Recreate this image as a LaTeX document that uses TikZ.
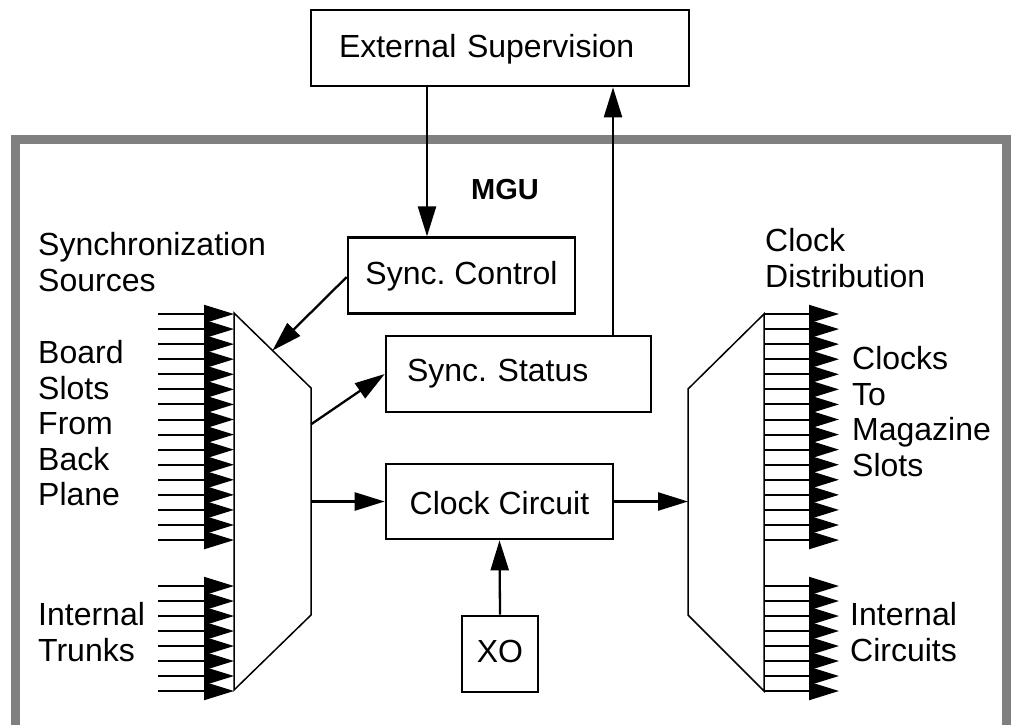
\documentclass[tikz,border=0pt]{standalone}
\usepackage{fontspec}
\setmainfont{Liberation Sans}
\usetikzlibrary{arrows.meta,calc}
\frenchspacing
\begin{document}
\begin{tikzpicture}[x=1pt,y=-1pt,
  every node/.style={font=\fontsize{32}{35.5}\selectfont},
  box/.style={draw, line width=2.6pt, inner sep=0pt},
  arr/.style={line width=2.3pt, -{Triangle[length=30pt,width=18pt]}},
  marr/.style={line width=2pt, -{Triangle[length=30pt,width=18pt]}},
  mux/.style={line width=1.5pt, line join=miter},
  frame/.style={draw=gray, line width=9pt},
  lbl/.style={anchor=north west, inner sep=0pt, align=left}
]
\useasboundingbox (0,0) rectangle (1016,724);
\clip (0,0) rectangle (1016,724);
\fill[white] (0,0) rectangle (1016,724);
\draw[frame] (15.5,139.5) rectangle (1006.5,760);

\node[box, minimum width=378pt, minimum height=76pt, text width=322pt, inner xsep=28pt, align=left, text height=47.5pt, text depth=28.5pt] (ext) at (500,48) {External Supervision};
\node[box, minimum width=227pt, minimum height=76pt, text height=46.3pt, text depth=29.7pt] (sc) at (461.5,275.7) {Sync. Control};
\node[box, minimum width=265pt, minimum height=76pt, text width=223pt, inner xsep=21pt, align=left, text height=45.7pt, text depth=30.3pt] (ss) at (518.5,374) {Sync. Status};
\node[box, minimum width=227pt, minimum height=75pt, text height=50pt, text depth=25pt] (cc) at (499.5,501.5) {Clock Circuit};
\node[box, minimum width=76pt, minimum height=76pt, text height=46.7pt, text depth=29.3pt] (xo) at (500,654) {XO};
\node[font=\fontsize{29}{32}\selectfont\bfseries, anchor=base] (mgu) at (505,199) {MGU};

\coordinate (la) at (234,313);
\coordinate (lb) at (311,388);
\coordinate (lc) at (311,615);
\coordinate (ld) at (234,690);
\draw[mux] (la) -- (lb) -- (lc) -- (ld) -- cycle;
\coordinate (ra) at (764,314);
\coordinate (rb) at (688,389);
\coordinate (rc) at (688,615);
\coordinate (rd) at (764,691);
\draw[mux] (ra) -- (rb) -- (rc) -- (rd) -- cycle;

\foreach \i in {0,...,15} \draw[marr] (158,{314+15.07*\i}) -- (234,{314+15.07*\i});
\foreach \i in {0,...,7} \draw[marr] (158,{586+15*\i}) -- (234,{586+15*\i});
\foreach \i in {0,...,15} \draw[marr] (764,{314+15.07*\i}) -- (839,{314+15.07*\i});
\foreach \i in {0,...,7} \draw[marr] (764,{586+15*\i}) -- (839,{586+15*\i});

\draw[arr] ([xshift=-73pt]ext.south) -- ([xshift=-34.5pt]sc.north);
\draw[arr] ([xshift=94.5pt]ss.north) -- ([xshift=113pt]ext.south);
\draw[arr] ([yshift=-1.3pt]sc.west) -- ($(la)!0.5!(lb)$);
\draw[arr] ($(lb)!0.16!(lc)$) -- (ss.west);
\draw[arr] (lb |- cc.west) -- (cc.west);
\draw[arr] (cc.east) -- (rb |- cc.east);
\draw[arr] (xo.north) -- (cc.south);

\node[lbl] (syn) at (38,232.5) {Synchronization\\Sources};
\node[lbl] (bsl) at (38,340.5) {Board\\Slots\\From\\Back\\Plane};
\node[lbl] (itr) at (38,602.5) {Internal\\Trunks};
\node[lbl] (cdi) at (765,228.5) {Clock\\Distribution};
\node[lbl] (ctm) at (852,346.5) {Clocks\\To\\Magazine\\Slots};
\node[lbl] (ici) at (850,602.5) {Internal\\Circuits};
\end{tikzpicture}
\end{document}
